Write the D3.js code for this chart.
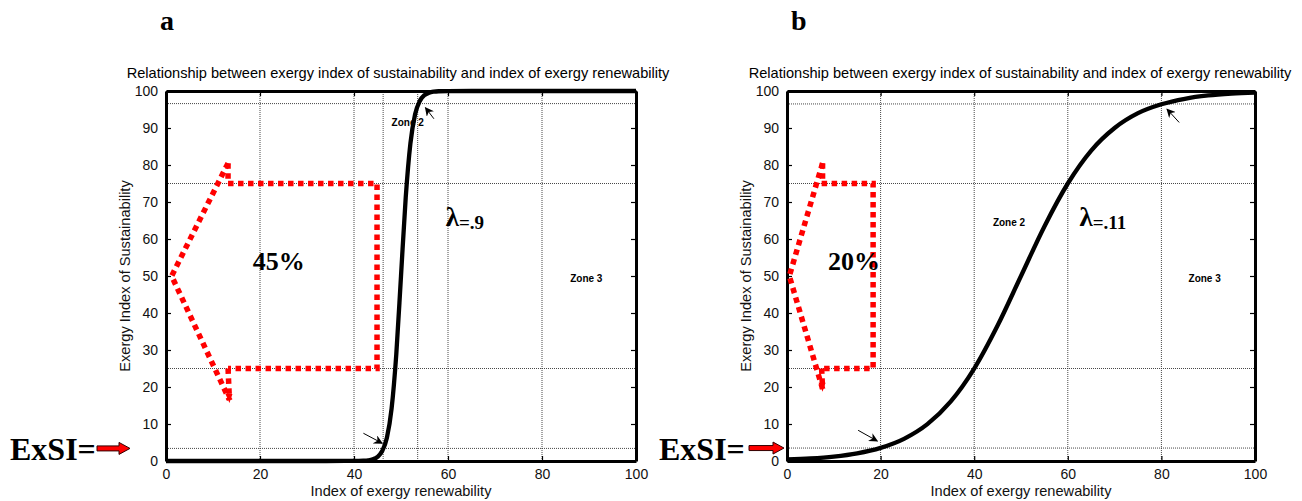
<!DOCTYPE html>
<html>
<head>
<meta charset="utf-8">
<script src="https://cdn.jsdelivr.net/npm/d3@7"></script>
<style>
  html, body { margin: 0; padding: 0; background: #fff; }
  svg { display: block; }
</style>
</head>
<body>
<svg id="chart" width="1302" height="501"></svg>
<script>
// Axis ticks shared by both panels
const xTicks = [0, 20, 40, 60, 80, 100];
const yTicks = [0, 10, 20, 30, 40, 50, 60, 70, 80, 90, 100];

// Panel a: steep curve (lambda = .9)
const curveAx = [0, 10, 20, 30, 38, 40, 42, 43, 44, 45, 46, 47, 48, 49, 50, 51, 52, 53, 54, 55, 56, 57, 58, 60, 70, 80, 90, 100];
const curveAy = [0, 0, 0, 0, 0.01, 0.01, 0.08, 0.18, 0.45, 1.1, 2.7, 6.3, 14.2, 28.9, 50, 71.1, 85.8, 93.7, 97.3, 98.9, 99.55, 99.82, 99.93, 99.99, 100, 100, 100, 100];

// Panel b: gentle curve (lambda = .11)
const curveBx = [0, 5, 10, 15, 20, 25, 30, 35, 40, 45, 50, 55, 60, 65, 70, 75, 80, 85, 90, 95, 100];
const curveBy = [0.41, 0.7, 1.21, 2.08, 3.56, 6.0, 9.97, 16.1, 24.97, 36.6, 50, 63.4, 75.0, 83.9, 90.0, 94.0, 96.4, 97.9, 98.8, 99.3, 99.6];

// Reference lines
const gridAx = [20, 40, 46.2, 53.55, 60, 80];
const gridAy = [3.4, 25, 75, 96.6];
const gridBx = [20, 40, 60, 80];
const gridBy = [3.5, 25, 75, 96.5];

// Dotted bracket outlines (data units): [topTip, leftVertex, bottomTip], box [x0, x1, y0, y1]
const bracketA = [[13.2, 80.5], [1.2, 50], [13.5, 16.5]];
const boxA = [13.2, 44.9, 25, 75];
const bracketB = [[7.6, 80.5], [0.5, 50], [7.6, 19.5]];
const boxB = [7.4, 18.4, 25, 75];

const titleText = "Relationship between exergy index of sustainability and index of exergy renewability";

const svg = d3.select("#chart");

const defs = svg.append("defs");
defs.append("marker")
  .attr("id", "blackHead")
  .attr("viewBox", "0 0 10 10")
  .attr("refX", 9).attr("refY", 5)
  .attr("markerWidth", 9).attr("markerHeight", 9)
  .attr("markerUnits", "userSpaceOnUse")
  .attr("orient", "auto")
  .append("path").attr("d", "M0,0 L10,5 L0,10 L3,5 Z").attr("fill", "#000");

function drawPanel(cfg) {
  const x = d3.scaleLinear().domain([0, 100]).range(cfg.xr);
  const y = d3.scaleLinear().domain([0, 100]).range([461, 91]);
  const g = svg.append("g");

  // Reference lines
  g.selectAll(".vg").data(cfg.gx).join("line")
    .attr("x1", d => x(d)).attr("x2", d => x(d))
    .attr("y1", y(0)).attr("y2", y(100))
    .attr("stroke", "#333").attr("stroke-width", 0.9).attr("stroke-dasharray", "1,1");
  g.selectAll(".hg").data(cfg.gy).join("line")
    .attr("y1", d => y(d)).attr("y2", d => y(d))
    .attr("x1", x(0)).attr("x2", x(100))
    .attr("stroke", "#333").attr("stroke-width", 0.9).attr("stroke-dasharray", "1,1");

  // Axes with inward ticks on all four sides
  const bottom = d3.axisBottom(x).tickValues(xTicks).tickSizeInner(-5).tickSizeOuter(0).tickPadding(8);
  const top = d3.axisTop(x).tickValues(xTicks).tickSizeInner(-5).tickSizeOuter(0).tickFormat("");
  const left = d3.axisLeft(y).tickValues(yTicks).tickSizeInner(-5).tickSizeOuter(0).tickPadding(8);
  const right = d3.axisRight(y).tickValues(yTicks).tickSizeInner(-5).tickSizeOuter(0).tickFormat("");

  const axStyle = sel => {
    sel.selectAll("path").attr("stroke", "#000").attr("stroke-width", 3);
    sel.selectAll("line").attr("stroke", "#000").attr("stroke-width", 1.2);
    sel.selectAll("text").attr("font-family", "Liberation Sans, Arial, sans-serif")
      .attr("font-size", 14).attr("fill", "#111");
  };
  g.append("g").attr("transform", `translate(0,${y(0)})`).call(bottom).call(axStyle);
  g.append("g").attr("transform", `translate(0,${y(100)})`).call(top).call(axStyle);
  g.append("g").attr("transform", `translate(${x(0)},0)`).call(left).call(axStyle);
  g.append("g").attr("transform", `translate(${x(100)},0)`).call(right).call(axStyle);

  // Main curve
  const line = d3.line().x(d => x(d[0])).y(d => y(d[1])).curve(d3.curveMonotoneX);
  g.append("path")
    .datum(cfg.cx.map((v, i) => [v, cfg.cy[i]]))
    .attr("d", line)
    .attr("fill", "none").attr("stroke", "#000").attr("stroke-width", 4.3)
    .attr("stroke-linejoin", "round");

  // Titles
  g.append("text").attr("x", cfg.titleX).attr("y", 78)
    .attr("text-anchor", "middle")
    .attr("font-family", "Liberation Sans, Arial, sans-serif").attr("font-size", 14.6)
    .text(titleText);
  g.append("text").attr("x", (cfg.xr[0] + cfg.xr[1]) / 2).attr("y", 496)
    .attr("text-anchor", "middle")
    .attr("font-family", "Liberation Sans, Arial, sans-serif").attr("font-size", 14.6)
    .attr("fill", "#111")
    .text("Index of exergy renewability");
  g.append("text")
    .attr("transform", `translate(${cfg.xr[0] - 36},${y(50)}) rotate(-90)`)
    .attr("text-anchor", "middle")
    .attr("font-family", "Liberation Sans, Arial, sans-serif").attr("font-size", 14.6)
    .attr("fill", "#111")
    .text("Exergy Index of Sustainability");

  // Panel letter
  g.append("text").attr("x", cfg.letterX).attr("y", 30)
    .attr("font-family", "Liberation Serif, Times New Roman, serif").attr("font-weight", "bold")
    .attr("font-size", 28).text(cfg.letter);

  // Dotted red bracket
  const red = "#ff0000";
  const dot = sel => sel.attr("fill", "none").attr("stroke", red).attr("stroke-width", 5.5)
    .attr("stroke-dasharray", "5.5,4.5");
  const br = cfg.bracket;
  g.append("path").call(dot)
    .attr("d", `M${x(br[0][0])},${y(br[0][1])} L${x(br[1][0])},${y(br[1][1])} L${x(br[2][0])},${y(br[2][1])}`);
  const b = cfg.box;
  g.append("path").call(dot)
    .attr("d", `M${x(b[0])},${y(b[3])} L${x(b[1])},${y(b[3])} L${x(b[1])},${y(b[2])} L${x(b[0])},${y(b[2])}`);
  g.append("path").call(dot)
    .attr("d", `M${x(br[0][0])},${y(br[0][1])} L${x(br[0][0])},${y(b[3])}`);
  g.append("path").call(dot)
    .attr("d", `M${x(b[0])},${y(b[2])} L${x(br[2][0])},${y(br[2][1])}`);
  // small arrow tip at the lower end
  const tx = x(br[2][0]), ty = y(br[2][1]);
  g.append("path").attr("d", `M${tx - 4},${ty - 6} L${tx + 3},${ty - 6} L${tx},${ty + 3} Z`).attr("fill", red);

  // Percentage label
  g.append("text").attr("x", x(cfg.pct[0])).attr("y", y(cfg.pct[1]))
    .attr("text-anchor", "middle")
    .attr("font-family", "Liberation Serif, Times New Roman, serif").attr("font-weight", "bold")
    .attr("font-size", 26).text(cfg.pct[2]);

  // Lambda label
  const lam = g.append("text").attr("x", x(cfg.lam[0])).attr("y", y(cfg.lam[1]))
    .attr("font-family", "Liberation Serif, Times New Roman, serif").attr("font-weight", "bold");
  lam.append("tspan").attr("font-size", 27).text("λ");
  lam.append("tspan").attr("font-size", 19).attr("dy", 3).text(cfg.lam[2]);

  // Zone labels
  cfg.zones.forEach(z => {
    g.append("text").attr("x", x(z[0])).attr("y", y(z[1]))
      .attr("font-family", "Liberation Sans, Arial, sans-serif").attr("font-weight", "bold")
      .attr("font-size", 10).text(z[2]);
  });

  // Small black pointer arrows
  cfg.pointers.forEach(p => {
    g.append("line")
      .attr("x1", x(p[0])).attr("y1", y(p[1])).attr("x2", x(p[2])).attr("y2", y(p[3]))
      .attr("stroke", "#000").attr("stroke-width", 1)
      .attr("marker-end", "url(#blackHead)");
  });

  // ExSI label and red arrow pointing at the low reference line
  g.append("text").attr("x", cfg.exsi[0]).attr("y", 460)
    .attr("font-family", "Liberation Serif, Times New Roman, serif").attr("font-weight", "bold")
    .attr("font-size", 32).text("ExSI=");
  const ay = y(cfg.gy[0]);
  const a0 = cfg.exsi[1], a1 = cfg.exsi[2];
  g.append("path")
    .attr("d", `M${a0},${ay - 2.5} L${a1 - 11},${ay - 2.5} L${a1 - 11},${ay - 6} L${a1},${ay} L${a1 - 11},${ay + 6} L${a1 - 11},${ay + 2.5} L${a0},${ay + 2.5} Z`)
    .attr("fill", red).attr("stroke", "#300").attr("stroke-width", 1);
}

drawPanel({
  xr: [166, 636], letter: "a", letterX: 160, titleX: 398,
  cx: curveAx, cy: curveAy, gx: gridAx, gy: gridAy,
  bracket: bracketA, box: boxA,
  pct: [24, 51.5, "45%"],
  lam: [59.5, 63.5, "=.9"],
  zones: [[48, 90.6, "Zone 2"], [86, 48.5, "Zone 3"]],
  pointers: [[42, 7.5, 46, 4.8], [57, 92.5, 55.2, 95.5]],
  exsi: [10, 97, 130]
});

drawPanel({
  xr: [787, 1255], letter: "b", letterX: 791, titleX: 1020,
  cx: curveBx, cy: curveBy, gx: gridBx, gy: gridBy,
  bracket: bracketB, box: boxB,
  pct: [14.3, 51.7, "20%"],
  lam: [62.5, 63.5, "=.11"],
  zones: [[44, 63.5, "Zone 2"], [85.8, 48.5, "Zone 3"]],
  pointers: [[15.2, 8.3, 19.3, 5.4], [83.8, 91.5, 81.2, 95.1]],
  exsi: [659, 749, 784]
});
</script>
</body>
</html>
